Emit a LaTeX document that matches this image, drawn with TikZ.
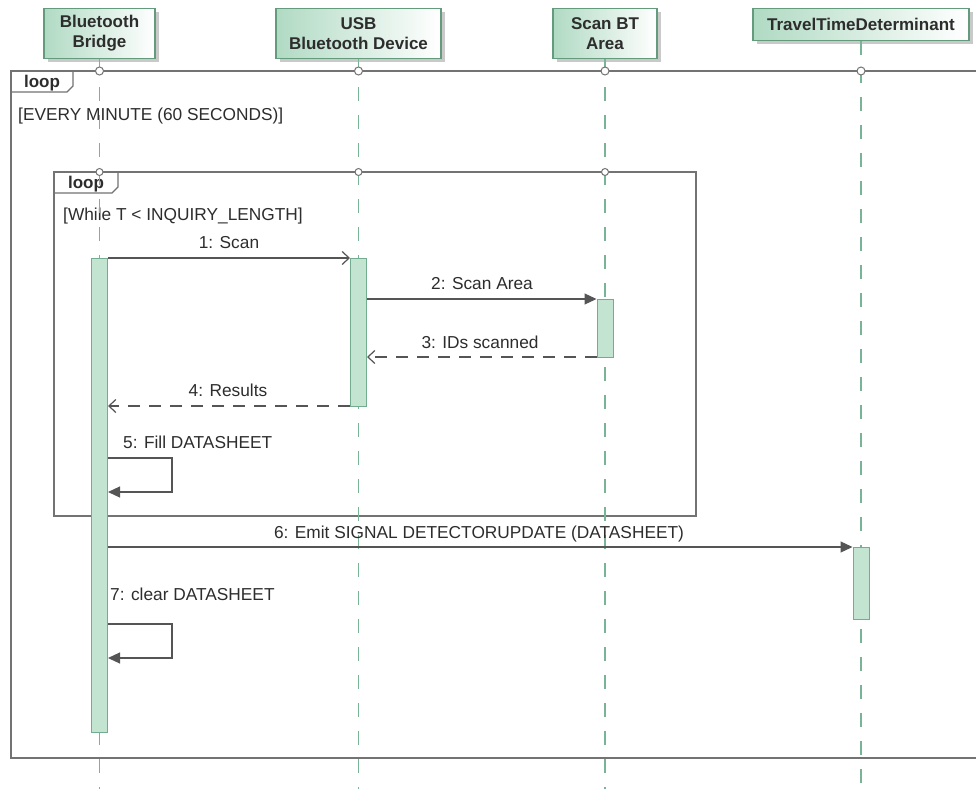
\documentclass[tikz,border=0pt]{standalone}
\usepackage{fontspec}
\setmainfont{Liberation Sans}
\usetikzlibrary{arrows.meta,shadows}

\definecolor{hdrgreen}{RGB}{176,218,195}
\definecolor{hdrborder}{RGB}{100,155,125}
\definecolor{actfill}{RGB}{196,228,210}
\definecolor{actborder}{RGB}{115,172,142}
\definecolor{lifegreen}{RGB}{120,180,150}
\definecolor{framegray}{RGB}{115,115,115}
\definecolor{msggray}{RGB}{85,85,85}
\definecolor{txtgray}{RGB}{45,45,45}

\tikzset{
  hdr/.style={draw=hdrborder, line width=1.1pt, left color=hdrgreen, right color=white,
    inner sep=0pt, anchor=north, align=center, text=txtgray,
    font=\bfseries\fontsize{17}{20}\selectfont,
    drop shadow={shadow xshift=3.5pt, shadow yshift=-3.5pt, fill=black!35, opacity=0.6}},
  act/.style={draw=actborder, fill=actfill, line width=1pt, minimum width=16pt,
    inner sep=0pt, anchor=north},
  lifedash/.style={draw=lifegreen, line width=1.1pt, dash pattern=on 14pt off 14pt},
  frame/.style={draw=framegray, line width=1.2pt},
  circ/.style={circle, draw=framegray, fill=white, line width=1pt, minimum size=8pt, inner sep=0pt},
  msg/.style={draw=msggray, line width=1.2pt},
  reply/.style={msg, dash pattern=on 12pt off 9pt},
  openhead/.style={-{Straight Barb[length=7pt,width=13pt]}},
  fullhead/.style={-{Triangle[length=12pt,width=11pt]}},
  lbl/.style={text=txtgray, font=\fontsize{17.3}{20}\selectfont, inner sep=0pt},
  tab/.style={text=txtgray, font=\bfseries\fontsize{17}{20}\selectfont, inner sep=0pt}
}

\begin{document}
\begin{tikzpicture}[x=1pt, y=-1pt]
\useasboundingbox (0,0) rectangle (976,789);
\clip (0,0) rectangle (976,789);
\fill[white] (0,0) rectangle (976,789);

% participants
\node[hdr, minimum width=111pt, minimum height=50pt] (hBB)  at (99.5,8) {Bluetooth\\Bridge};
\node[hdr, minimum width=165pt, minimum height=50pt] (hUSB) at (358.5,8) {USB\\Bluetooth Device};
\node[hdr, minimum width=104pt, minimum height=50pt] (hSC)  at (605,8) {Scan BT\\Area};
\node[hdr, minimum width=216pt, minimum height=32pt] (hTT)  at (861,8) {TravelTimeDeterminant};

% frame rows and message rows
\coordinate (otop) at (0,71);
\coordinate (itop) at (0,172);
\coordinate (bot) at (0,789);
\coordinate (m1) at (0,258);
\coordinate (m2) at (0,299);
\coordinate (m3) at (0,357);
\coordinate (m4) at (0,406);
\coordinate (m5) at (0,458);
\coordinate (m5e) at (0,492);
\coordinate (m6) at (0,547);
\coordinate (m7) at (0,624);
\coordinate (m7e) at (0,658);

% outer loop frame
\draw[frame] (11,71) rectangle (1000,758);
\draw[frame] (11,92) -- (67,92) -- (73,86) -- (73,71);
\node[tab] (tabouter) at (42,83) {loop};
\node[lbl, anchor=base west] (gouter) at (18,121) {[EVERY MINUTE (60 SECONDS)]};

% inner loop frame
\draw[frame] (54,172) rectangle (696,516);
\draw[frame] (54,193) -- (112,193) -- (118,187) -- (118,172);
\node[tab] (tabinner) at (86,184) {loop};
\node[lbl, anchor=base west] (ginner) at (63,220) {[While T < INQUIRY\_LENGTH]};

% lifelines
\foreach \h in {hBB,hUSB,hSC,hTT}{
  \draw[lifedash] (\h.south) -- (\h.south |- bot);
}

% gates on the frame tops
\foreach \h in {hBB,hUSB,hSC,hTT}{
  \node[circ] at (\h.south |- otop) {};
}
\foreach \h in {hBB,hUSB,hSC}{
  \node[circ, minimum size=7pt] at (\h.south |- itop) {};
}

% activation bars
\node[act, minimum height=474pt] (aBB)  at (hBB.south |- m1) {};
\node[act, minimum height=148pt] (aUSB) at (hUSB.south |- m1) {};
\node[act, minimum height=58pt]  (aSC)  at (hSC.south |- m2) {};
\node[act, minimum height=72pt]  (aTT)  at (hTT.south |- m6) {};

% messages
\draw[msg, openhead] (aBB.east |- m1) -- (aUSB.west |- m1);
\node[lbl, anchor=base] at (229,248) {1: Scan};

\draw[msg, fullhead] (aUSB.east |- m2) -- (aSC.west |- m2);
\node[lbl, anchor=base] at (482,289) {2: Scan Area};

\draw[reply, openhead] (aSC.west |- m3) -- (aUSB.east |- m3);
\node[lbl, anchor=base] at (480,348) {3: IDs scanned};

\draw[reply, openhead] (aUSB.west |- m4) -- (aBB.east |- m4);
\node[lbl, anchor=base] at (228,396) {4: Results};

\draw[msg, fullhead] (aBB.east |- m5) -- ++(64,0) -- ++(0,34) -- (aBB.east |- m5e);
\node[lbl, anchor=base west] at (123,448) {5: Fill DATASHEET};

\draw[msg, fullhead] (aBB.east |- m6) -- (aTT.west |- m6);
\node[lbl, anchor=base] at (479,538) {6: Emit SIGNAL DETECTORUPDATE (DATASHEET)};

\draw[msg, fullhead] (aBB.east |- m7) -- ++(64,0) -- ++(0,34) -- (aBB.east |- m7e);
\node[lbl, anchor=base west] at (110,600) {7: clear DATASHEET};
\end{tikzpicture}
\end{document}
